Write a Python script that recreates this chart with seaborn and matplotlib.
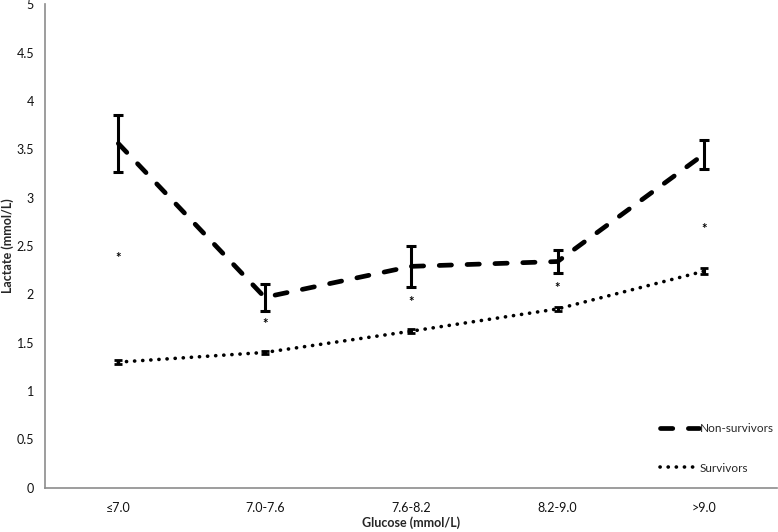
import numpy as np
import pandas as pd
import matplotlib
matplotlib.use("Agg")
import matplotlib.pyplot as plt
import seaborn as sns

# data
categories = ["≤7.0", "7.0-7.6", "7.6-8.2", "8.2-9.0", ">9.0"]
non_surv_mean = [3.56, 1.97, 2.29, 2.34, 3.45]
non_surv_err = [0.29, 0.14, 0.21, 0.12, 0.15]
surv_mean = [1.30, 1.40, 1.62, 1.85, 2.24]
surv_err = [0.02, 0.02, 0.02, 0.02, 0.03]
star_y = [2.38, 1.69, 1.92, 2.07, 2.68]


def main():
    sns.set_style("white")
    plt.rcParams["font.family"] = ["Lato", "DejaVu Sans"]

    pos = np.arange(len(categories))
    df = pd.DataFrame({
        "pos": np.concatenate([pos, pos]),
        "lactate": non_surv_mean + surv_mean,
        "group": ["Non-survivors"] * 5 + ["Survivors"] * 5,
    })

    fig, ax = plt.subplots(figsize=(7.78, 5.32), dpi=100)
    fig.subplots_adjust(left=0.058, right=0.999, top=0.992, bottom=0.083)

    # main lines
    sns.lineplot(data=df[df["group"] == "Non-survivors"], x="pos", y="lactate",
                 color="black", linewidth=3.4, label="Non-survivors", ax=ax)
    sns.lineplot(data=df[df["group"] == "Survivors"], x="pos", y="lactate",
                 color="black", linewidth=2.6, label="Survivors", ax=ax)
    lines = ax.get_lines()
    lines[0].set_dashes((2.6, 3.3))
    lines[0].set_dash_capstyle("round")
    lines[1].set_dashes((0.05, 2.2))
    lines[1].set_dash_capstyle("round")

    # error bars
    ax.errorbar(pos, non_surv_mean, yerr=non_surv_err, fmt="none",
                ecolor="black", elinewidth=2.2, capsize=3.5, capthick=2.2)
    ax.errorbar(pos, surv_mean, yerr=surv_err, fmt="none",
                ecolor="black", elinewidth=2.2, capsize=3.0, capthick=2.0)

    # significance markers
    for x, y in zip(pos, star_y):
        ax.text(x, y, "*", ha="center", va="center", fontsize=9.5,
                fontweight="bold", color="black")

    ax.set_xlim(-0.5, len(categories) - 0.5)
    ax.set_ylim(0, 5)
    ax.set_xticks(pos)
    ax.set_xticklabels(categories)
    ax.set_yticks(np.arange(0, 5.01, 0.5))
    ax.set_yticklabels([f"{v:g}" for v in np.arange(0, 5.01, 0.5)])
    ax.tick_params(axis="both", labelsize=9, colors="#111111",
                   length=5, width=1, direction="out", color="#8c8c8c")
    ax.tick_params(axis="x", pad=5)
    ax.tick_params(axis="y", pad=3)
    ax.set_xlabel("Glucose (mmol/L)", fontsize=9, fontweight="bold", labelpad=2)
    ax.set_ylabel("Lactate (mmol/L)", fontsize=9, fontweight="bold")
    ax.yaxis.set_label_coords(-0.042, 0.5)

    for side in ["top", "right"]:
        ax.spines[side].set_visible(False)
    for side in ["left", "bottom"]:
        ax.spines[side].set_color("#8c8c8c")
        ax.spines[side].set_linewidth(1.2)

    leg = ax.legend(loc="lower left", bbox_to_anchor=(0.83, 0.015), frameon=False,
                    fontsize=8.5, handlelength=3.3, handletextpad=0.1,
                    labelspacing=2.4, borderaxespad=0.2)
    for h in leg.get_lines():
        h.set_color("black")

    fig.savefig("out.png", dpi=100)
    plt.close(fig)


if __name__ == "__main__":
    main()
